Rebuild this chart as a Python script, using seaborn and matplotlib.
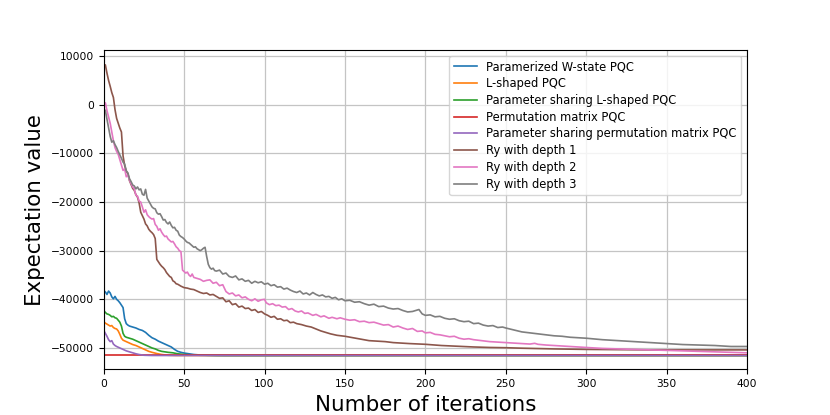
import numpy as np
import pandas as pd
import matplotlib
matplotlib.use("Agg")
import matplotlib.pyplot as plt
import seaborn as sns

# (iteration, expectation value) pairs
w_state = [(0, -38200), (1, -38500), (2, -39000), (3, -38300), (4, -38700), (5, -39500), (6, -39900),
           (7, -39400), (8, -40000), (9, -40300), (10, -40700), (11, -41200), (12, -41700), (13, -44000),
           (14, -45000), (15, -45300), (16, -45500), (18, -45700), (20, -45900), (22, -46200),
           (24, -46400), (26, -46800), (28, -47400), (30, -47900), (32, -48200), (34, -48600),
           (36, -48900), (38, -49200), (40, -49500), (42, -49800), (44, -50300), (46, -50700),
           (48, -50900), (50, -51050), (53, -51200), (56, -51350), (60, -51450), (65, -51500),
           (75, -51550), (400, -51550)]

l_shaped = [(0, -44600), (1, -44900), (2, -45100), (3, -45300), (4, -45500), (5, -45400), (6, -45800),
            (7, -46000), (8, -46100), (9, -46500), (10, -47200), (11, -48000), (12, -48400),
            (14, -48700), (16, -49000), (18, -49300), (20, -49500), (22, -49800), (24, -50100),
            (26, -50400), (28, -50700), (30, -50900), (33, -51150), (36, -51350), (40, -51500),
            (45, -51550), (400, -51550)]

ps_l_shaped = [(0, -42300), (1, -42700), (2, -43000), (3, -43100), (4, -43300), (5, -43600),
               (6, -43500), (7, -43800), (8, -43900), (9, -44300), (10, -44700), (11, -45500),
               (12, -47000), (13, -47600), (14, -47800), (16, -48000), (18, -48200), (20, -48500),
               (22, -48800), (24, -49100), (26, -49400), (28, -49700), (30, -50000), (32, -50200),
               (34, -50500), (36, -50700), (38, -50800), (40, -50900), (43, -51000), (46, -51200),
               (50, -51350), (55, -51450), (60, -51500), (70, -51550), (400, -51550)]

perm = [(0, -51550), (400, -51550)]

ps_perm = [(0, -46400), (1, -47000), (2, -47600), (3, -48300), (4, -48700), (5, -48500), (6, -49200),
           (7, -49500), (8, -49700), (10, -50000), (12, -50300), (14, -50600), (16, -50800),
           (18, -51000), (20, -51200), (22, -51350), (25, -51500), (30, -51550), (400, -51550)]

ry_depth1 = [(0, 7600), (1, 8200), (2, 6500), (3, 5000), (4, 3800), (5, 2500), (6, 1500), (7, -1000),
             (8, -2800), (9, -3800), (10, -4800), (11, -5600), (12, -10500), (13, -12500),
             (14, -13600), (15, -14200), (16, -15600), (17, -16400), (18, -17200), (19, -17600),
             (20, -18500), (21, -19000), (22, -20200), (23, -22100), (24, -22800), (25, -23500),
             (26, -24500), (27, -24900), (28, -25600), (29, -26000), (30, -26300), (31, -26700),
             (32, -27500), (33, -31800), (34, -32300), (35, -32800), (36, -33200), (37, -33500),
             (38, -33900), (39, -34500), (40, -34900), (41, -35300), (42, -35500), (43, -36200),
             (44, -36400), (45, -36800), (46, -36900), (48, -37300), (50, -37600), (52, -37700),
             (54, -37900), (56, -38000), (58, -38300), (60, -38600), (62, -38800), (64, -38700),
             (66, -39100), (68, -39000), (70, -39400), (72, -39800), (74, -39700), (76, -40500),
             (78, -40300), (80, -41100), (82, -40900), (84, -41600), (86, -41400), (88, -41900),
             (90, -41800), (92, -42300), (94, -42100), (96, -42700), (98, -42500), (100, -43000),
             (102, -43300), (104, -43700), (106, -43500), (108, -44100), (110, -44000),
             (112, -44400), (114, -44300), (116, -44800), (118, -44700), (120, -45000),
             (123, -45200), (126, -45500), (129, -45700), (132, -46100), (135, -46500),
             (138, -46800), (141, -47100), (145, -47400), (150, -47600), (155, -47900),
             (160, -48200), (165, -48500), (170, -48600), (175, -48700), (180, -48900),
             (190, -49100), (200, -49250), (210, -49500), (220, -49650), (230, -49800),
             (240, -49900), (250, -49950), (260, -50050), (280, -50200), (300, -50300),
             (320, -50350), (340, -50400), (370, -50400), (400, -50400)]

ry_depth2 = [(0, -300), (1, 400), (2, -1200), (3, -2500), (4, -3800), (5, -5600), (6, -7400),
             (7, -8800), (8, -9600), (9, -10200), (10, -11300), (11, -12400), (12, -13500),
             (13, -13200), (14, -14800), (15, -14400), (16, -15500), (17, -16200), (18, -16900),
             (19, -17300), (20, -18600), (21, -18800), (22, -19800), (23, -20000), (24, -21000),
             (25, -22100), (26, -21600), (27, -22600), (28, -23000), (29, -23300), (30, -23500),
             (31, -23400), (32, -24600), (33, -25000), (34, -25800), (35, -25500), (36, -26200),
             (37, -26700), (38, -27100), (39, -27000), (40, -27600), (41, -27900), (42, -28200),
             (43, -28100), (44, -28600), (45, -29200), (46, -29500), (47, -30000), (48, -30200),
             (49, -34000), (50, -34300), (51, -34600), (52, -34400), (53, -35000), (54, -35300),
             (55, -34800), (56, -35500), (58, -35700), (60, -35900), (62, -36300), (64, -36100),
             (66, -36000), (68, -36700), (70, -36500), (72, -37200), (74, -37000), (76, -38400),
             (78, -38900), (80, -38700), (82, -39300), (84, -39100), (86, -39700), (88, -39500),
             (90, -40000), (92, -40300), (94, -39900), (96, -40400), (98, -40100), (100, -40000),
             (101, -40700), (103, -41100), (105, -40900), (107, -41300), (109, -41200),
             (111, -41600), (113, -41500), (115, -42100), (117, -41900), (119, -42400),
             (121, -42600), (123, -42400), (125, -42900), (127, -42800), (130, -43300),
             (132, -43100), (135, -43600), (137, -43400), (140, -43900), (142, -43700),
             (145, -44000), (147, -43800), (150, -44100), (153, -44300), (156, -44200),
             (159, -44600), (162, -44500), (165, -44800), (168, -44700), (171, -45000),
             (174, -45300), (177, -45200), (180, -45700), (183, -45500), (186, -45900),
             (189, -46200), (192, -46000), (195, -46600), (198, -46500), (200, -46900),
             (203, -46800), (206, -47200), (209, -47300), (212, -47500), (215, -47700),
             (218, -47600), (221, -48000), (224, -48200), (227, -48100), (230, -48300),
             (235, -48500), (240, -48700), (245, -48800), (250, -48900), (255, -49000),
             (260, -49100), (265, -49200), (268, -49050), (270, -49250), (275, -49400),
             (280, -49500), (290, -49700), (300, -49900), (310, -50100), (320, -50200),
             (330, -50300), (340, -50400), (350, -50500), (360, -50600), (370, -50700),
             (380, -50800), (390, -50900), (400, -51000)]

ry_depth3 = [(0, -800), (1, -1200), (2, -3000), (3, -4800), (4, -6500), (5, -7700), (6, -7400),
             (7, -8200), (8, -8800), (9, -9600), (10, -10300), (11, -11000), (12, -11800),
             (13, -12200), (14, -13600), (15, -14000), (16, -15200), (17, -15800), (18, -16500),
             (19, -16700), (20, -17300), (21, -16900), (22, -17500), (23, -17300), (24, -18400),
             (25, -18600), (26, -17400), (27, -19200), (28, -19800), (29, -20400), (30, -21000),
             (31, -21300), (32, -21400), (33, -22200), (34, -22500), (35, -22400), (36, -23000),
             (37, -23700), (38, -23600), (39, -24200), (40, -24500), (41, -24100), (42, -24800),
             (43, -25300), (44, -25200), (45, -25800), (46, -26000), (47, -26800), (48, -27100),
             (49, -27300), (50, -27600), (51, -28000), (52, -28300), (53, -28400), (54, -28700),
             (55, -29000), (56, -29300), (57, -29200), (58, -29600), (59, -29800), (60, -30000),
             (61, -29800), (62, -29500), (63, -29300), (64, -31200), (65, -32800), (66, -33500),
             (67, -33800), (68, -33600), (69, -34100), (70, -34200), (72, -34000), (74, -34800),
             (76, -34600), (78, -35300), (80, -35500), (82, -35200), (84, -36000), (86, -35800),
             (88, -36300), (90, -36100), (92, -36700), (94, -36300), (96, -36600), (98, -36400),
             (100, -36900), (102, -36700), (104, -37200), (106, -37000), (108, -37500),
             (110, -37400), (112, -37900), (114, -37700), (116, -38100), (118, -38400),
             (120, -38600), (122, -38300), (124, -38900), (126, -38700), (128, -39100),
             (130, -38600), (132, -39000), (134, -39300), (136, -39100), (138, -39500),
             (140, -39400), (142, -39800), (144, -39600), (146, -40100), (148, -39900),
             (150, -40300), (153, -40200), (156, -40600), (159, -40500), (162, -40900),
             (165, -41200), (168, -41000), (171, -41500), (174, -41400), (177, -41800),
             (180, -42000), (183, -41900), (186, -42300), (189, -42600), (192, -42500),
             (194, -42300), (196, -42100), (198, -43000), (200, -43300), (203, -43200),
             (206, -43600), (209, -43500), (212, -43900), (215, -44100), (218, -44000),
             (221, -44400), (224, -44600), (227, -44500), (230, -45000), (233, -44900),
             (236, -45300), (239, -45500), (242, -45400), (245, -45800), (248, -45700),
             (250, -45900), (255, -46300), (260, -46700), (265, -46900), (270, -47100),
             (275, -47300), (280, -47500), (285, -47600), (290, -47800), (295, -47900),
             (300, -48000), (310, -48300), (320, -48500), (330, -48700), (340, -48900),
             (350, -49100), (360, -49300), (370, -49400), (380, -49500), (390, -49700),
             (400, -49700)]

labels = ["Paramerized W-state PQC", "L-shaped PQC", "Parameter sharing L-shaped PQC",
          "Permutation matrix PQC", "Parameter sharing permutation matrix PQC",
          "Ry with depth 1", "Ry with depth 2", "Ry with depth 3"]
series = [w_state, l_shaped, ps_l_shaped, perm, ps_perm, ry_depth1, ry_depth2, ry_depth3]

frames = []
for name, pts in zip(labels, series):
    its, vals = zip(*pts)
    frames.append(pd.DataFrame({"Iteration": its, "Value": vals, "Model": name}))
df = pd.concat(frames, ignore_index=True)

fig, ax = plt.subplots(figsize=(8.3, 4.15), dpi=100)
sns.lineplot(data=df, x="Iteration", y="Value", hue="Model", hue_order=labels,
             palette=sns.color_palette("tab10", 8), linewidth=1.2, estimator=None, ax=ax)

ax.set_xlim(0, 400)
ax.set_ylim(-54400, 11300)
ax.grid(True, color="#c4c4c4", linewidth=0.9)
ax.tick_params(labelsize=7.7)
ax.set_xlabel("Number of iterations", fontsize=15.4)
ax.set_ylabel("Expectation value", fontsize=15.4)

handles, _ = ax.get_legend_handles_labels()
ax.legend(handles, labels, loc="upper right", fontsize=8.3, labelspacing=0.33)

fig.savefig("out.png", dpi=100)
